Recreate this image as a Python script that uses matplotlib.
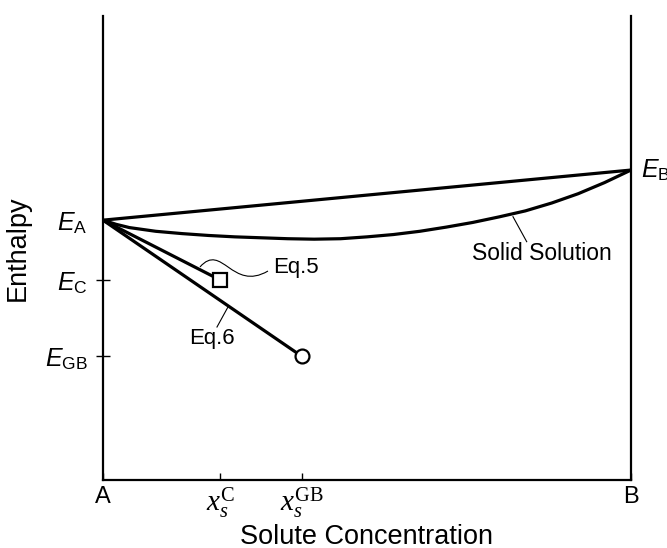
import matplotlib.pyplot as plt
from matplotlib.path import Path
from matplotlib.patches import PathPatch

plt.rcParams['font.family'] = ['Liberation Sans', 'DejaVu Sans']
plt.rcParams['mathtext.fontset'] = 'custom'
plt.rcParams['mathtext.rm'] = 'Liberation Serif'
plt.rcParams['mathtext.it'] = 'Liberation Serif:italic'
plt.rcParams['mathtext.sf'] = 'Liberation Sans'
plt.rcParams['mathtext.bf'] = 'Liberation Sans:italic'

# energies (normalised axis units)
E_A = 0.560
E_B = 0.668
E_C = 0.431
E_GB = 0.267

# concentrations
x_C = 0.222
x_GB = 0.376

# solid solution curve
ss_x = [0.0, 0.025, 0.05, 0.1, 0.15, 0.2, 0.25, 0.3, 0.35, 0.4, 0.45,
        0.5, 0.55, 0.6, 0.65, 0.7, 0.75, 0.8, 0.85, 0.9, 0.95, 1.0]
ss_y = [0.560, 0.551, 0.544, 0.536, 0.531, 0.527, 0.524, 0.522, 0.520, 0.519, 0.520,
        0.524, 0.529, 0.536, 0.545, 0.555, 0.567, 0.580, 0.597, 0.617, 0.641, 0.668]

x_ticks = [0.0, x_C, x_GB, 1.0]
x_labels = ['A', r'$x_s^{\mathrm{C}}$', r'$x_s^{\mathrm{GB}}$', 'B']
y_ticks = [E_GB, E_C, E_A]
y_labels = [r'$\mathbf{E}_{\mathsf{GB}}$', r'$\mathbf{E}_{\mathsf{C}}$', r'$\mathbf{E}_{\mathsf{A}}$']

fig = plt.figure(figsize=(6.67, 5.48), dpi=100)
ax = fig.add_axes([0.1544, 0.1241, 0.7916, 0.8467])

lw = 2.3
# mechanical mixture line A-B
ax.plot([0, 1], [E_A, E_B], color='black', lw=lw, solid_capstyle='butt')
# solid solution
ax.plot(ss_x, ss_y, color='black', lw=lw, solid_joinstyle='round')
# Eq.5 and Eq.6 lines
ax.plot([0, x_C], [E_A, E_C], color='black', lw=lw)
ax.plot([0, x_GB], [E_A, E_GB], color='black', lw=lw)
ax.plot([x_C], [E_C], marker='s', ms=10, mfc='white', mec='black', mew=1.6, zorder=5)
ax.plot([x_GB], [E_GB], marker='o', ms=10, mfc='white', mec='black', mew=1.6, zorder=5)

# labels with leader lines
ax.plot([0.7765, 0.8025], [0.5675, 0.5136], color='black', lw=0.8)
ax.text(0.831, 0.489, 'Solid Solution', fontsize=16.5, ha='center', va='center')

verts = [(0.1837, 0.4591), (0.2254, 0.5129), (0.2443, 0.4052), (0.3125, 0.4504)]
wave = Path(verts, [Path.MOVETO, Path.CURVE4, Path.CURVE4, Path.CURVE4])
ax.add_patch(PathPatch(wave, fc='none', ec='black', lw=0.8))
ax.text(0.322, 0.457, 'Eq.5', fontsize=16, ha='left', va='center')

ax.plot([0.2367, 0.2159], [0.3728, 0.3297], color='black', lw=0.8)
ax.text(0.206, 0.306, 'Eq.6', fontsize=16, ha='center', va='center')

ax.annotate(r'$\mathbf{E}_{\mathsf{B}}$', xy=(1.0, E_B), xytext=(7, 0),
            textcoords='offset points', fontsize=18, ha='left', va='center',
            annotation_clip=False)

ax.set_xlim(0, 1)
ax.set_ylim(0, 1)
ax.spines['top'].set_visible(False)
for s in ['left', 'right', 'bottom']:
    ax.spines[s].set_linewidth(1.6)

ax.set_xticks(x_ticks)
ax.set_xticklabels(x_labels)
ax.tick_params(axis='x', direction='in', length=5, width=1, pad=4, labelsize=17)
for lab in ax.get_xticklabels()[1:3]:
    lab.set_fontsize(21)
ax.set_yticks(y_ticks)
ax.set_yticklabels(y_labels)
ax.tick_params(axis='y', direction='inout', length=10, width=1, pad=6, labelsize=18)
ax.yaxis.get_major_ticks()[2].tick1line.set_visible(False)

ax.set_xlabel('Solute Concentration', fontsize=19.5, labelpad=2)
ax.set_ylabel('Enthalpy', fontsize=19.5, labelpad=10)

fig.savefig('out.png', dpi=100)
